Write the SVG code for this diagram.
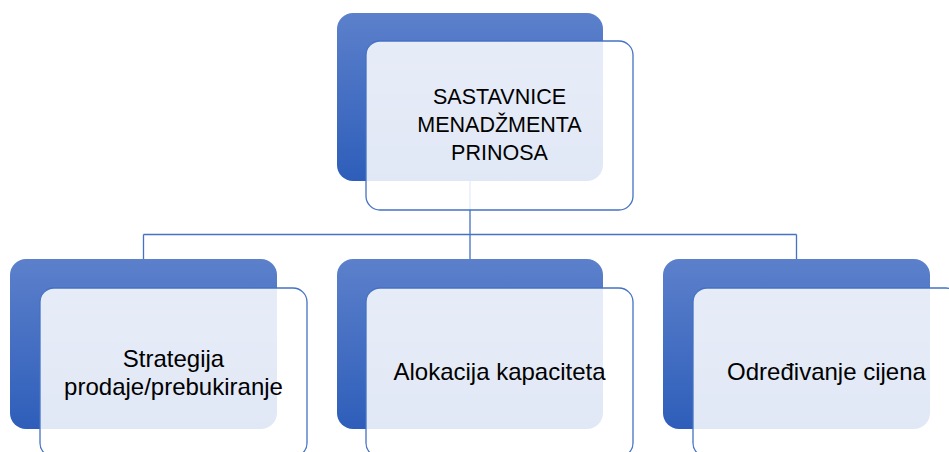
<svg xmlns="http://www.w3.org/2000/svg" width="949" height="452" viewBox="0 0 949 452">
  <defs>
    <linearGradient id="backGrad" x1="0" y1="0" x2="0" y2="1">
      <stop offset="0" stop-color="#5C80CB"/>
      <stop offset="1" stop-color="#2E5EBA"/>
    </linearGradient>
  </defs>
  <style>
    .back { fill: url(#backGrad); }
    .front { fill: #FFFFFF; fill-opacity: 0.86; stroke: #4472C4; stroke-width: 1.3; }
    .conn { fill: none; stroke: #4472C4; stroke-width: 1.3; }
    .lbl { font-family: "Liberation Sans", Arial, sans-serif; font-size: 24px; fill: #000000; text-anchor: middle; }
    .cap { font-size: 21.5px; }
  </style>
  <rect width="949" height="452" fill="#FFFFFF"/>

  <g id="connectors">
    <path class="conn" d="M470,181 V234.5 M143.5,234.5 H796.5 M143.5,234.5 V259 M470,234.5 V259 M796.5,234.5 V259"/>
  </g>

  <g id="node-root">
    <rect class="back" x="337" y="13" width="266" height="168" rx="16"/>
    <rect class="front" x="366" y="41" width="267" height="169" rx="14"/>
    <text class="lbl cap" x="499.5" y="104">SASTAVNICE</text>
    <text class="lbl cap" x="499.5" y="132">MENADŽMENTA</text>
    <text class="lbl cap" x="499.5" y="160">PRINOSA</text>
  </g>

  <g id="node-strategija">
    <rect class="back" x="10" y="259" width="267" height="170" rx="16"/>
    <rect class="front" x="40" y="288" width="267" height="169" rx="14"/>
    <text class="lbl" x="173.5" y="367">Strategija</text>
    <text class="lbl" x="173.5" y="395">prodaje/prebukiranje</text>
  </g>

  <g id="node-alokacija">
    <rect class="back" x="337" y="259" width="266" height="170" rx="16"/>
    <rect class="front" x="366" y="288" width="267" height="169" rx="14"/>
    <text class="lbl" x="499.5" y="380">Alokacija kapaciteta</text>
  </g>

  <g id="node-odredivanje">
    <rect class="back" x="663" y="259" width="267" height="170" rx="16"/>
    <rect class="front" x="693" y="288" width="267" height="169" rx="14"/>
    <text class="lbl" x="826.5" y="380">Određivanje cijena</text>
  </g>
</svg>
